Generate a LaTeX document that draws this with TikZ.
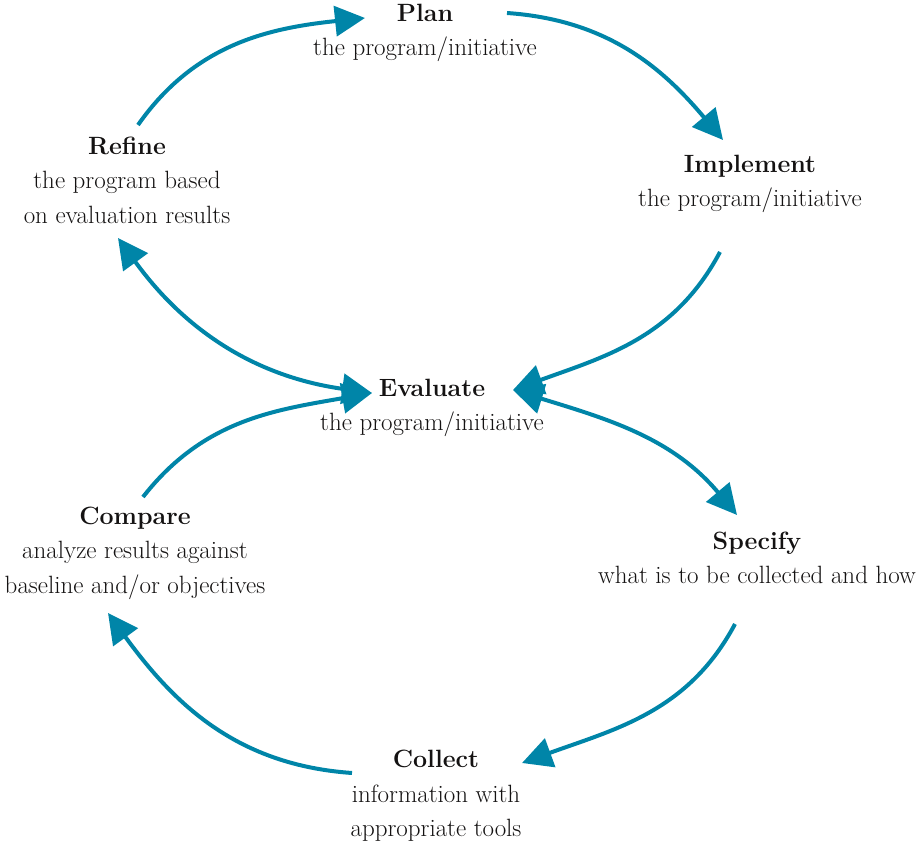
\documentclass[tikz,border=0pt]{standalone}
\usetikzlibrary{arrows.meta}
\definecolor{cyc}{RGB}{0,133,168}
\definecolor{txt}{RGB}{20,18,18}
\begin{document}
\begin{tikzpicture}[x=1pt,y=1pt,
  lbl/.style={align=center,text=txt,font=\fontsize{25}{34.5}\selectfont,inner sep=0pt},
  cyarrow/.style={draw=cyc,line width=4pt,-{Triangle[length=30pt,width=30pt]}},
  cyboth/.style={draw=cyc,line width=4pt,{Triangle[length=30pt,width=30pt]}-{Triangle[length=30pt,width=30pt]}}]
\useasboundingbox (0,0) rectangle (920,846);
% labels
\node[lbl] (plan) at (425,813) {\textbf{Plan}\\the program/initiative};
\node[lbl] (impl) at (750,662) {\textbf{Implement}\\the program/initiative};
\node[lbl] (refine) at (127,666) {\textbf{Refine}\\the program based\\on evaluation results};
\node[lbl] (eval) at (432,438) {\textbf{Evaluate}\\the program/initiative};
\node[lbl] (spec) at (757,288) {\textbf{Specify}\\what is to be collected and how};
\node[lbl] (comp) at (135,293) {\textbf{Compare}\\analyze results against\\baseline and/or objectives};
\node[lbl] (coll) at (436,50) {\textbf{Collect}\\information with\\appropriate tools};
% connector ends
\coordinate (refineTop) at (138,721);
\coordinate (planIn) at (365,828);
\coordinate (planOut) at (507,833);
\coordinate (implIn) at (723,706);
\coordinate (implOut) at (720,594);
\coordinate (evalR) at (513,456);
\coordinate (refineBot) at (118,608);
\coordinate (evalL) at (372,453);
\coordinate (compTop) at (143,349);
\coordinate (specIn) at (737,331);
\coordinate (specOut) at (735,222);
\coordinate (collIn) at (522,83);
\coordinate (collOut) at (352,73);
\coordinate (compIn) at (108,233);
% connectors
\draw[cyarrow] (refineTop) to[out=55,in=186] (planIn);
\draw[cyarrow] (planOut) to[out=-4,in=130] (implIn);
\draw[cyarrow] (implOut) to[out=-118,in=20] (evalR);
\draw[cyboth] (refineBot) to[out=-54,in=172] (evalL);
\draw[cyarrow] (compTop) to[out=52,in=190] (evalL);
\draw[cyboth] (evalR) to[out=-17,in=130] (specIn);
\draw[cyarrow] (specOut) to[out=-118,in=20] (collIn);
\draw[cyarrow] (collOut) to[out=176,in=-54] (compIn);
\end{tikzpicture}
\end{document}
